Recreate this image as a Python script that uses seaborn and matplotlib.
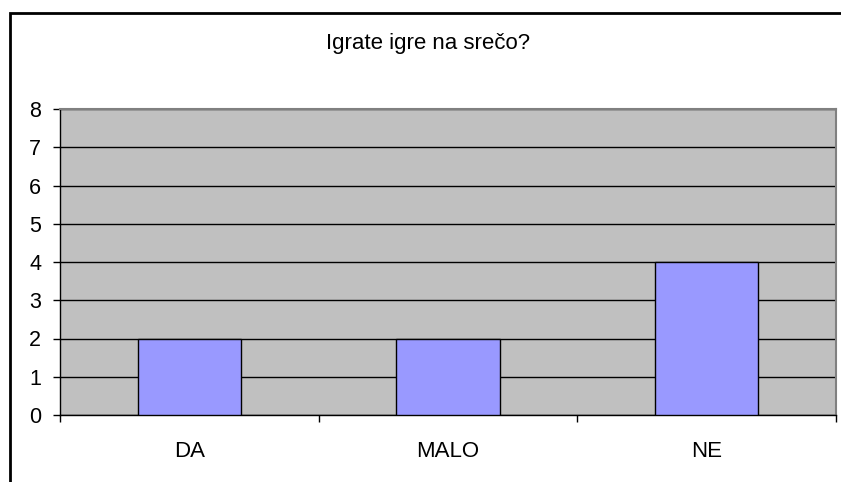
import matplotlib
matplotlib.use("Agg")
import matplotlib.pyplot as plt
import seaborn as sns
import pandas as pd
from matplotlib.patches import Rectangle

categories = ["DA", "MALO", "NE"]
values = [2, 2, 4]
title = "Igrate igre na srečo?"

sns.set_style("white")
plt.rcParams['font.family'] = ['Liberation Sans', 'DejaVu Sans']
plt.rcParams['text.color'] = 'black'
plt.rcParams['xtick.color'] = 'black'
plt.rcParams['ytick.color'] = 'black'

W, H = 841, 482
fig = plt.figure(figsize=(W/100, H/100), dpi=100)
ax = fig.add_axes([60/W, 1-415/H, (836-60)/W, (415-109)/H])

df = pd.DataFrame({"cat": categories, "val": values})
sns.barplot(data=df, x="cat", y="val", ax=ax, width=0.4, color="#9999FF",
            saturation=1, edgecolor="black", linewidth=1, zorder=3)

ax.set_facecolor("#C0C0C0")
ax.set_ylim(0, 8)
ax.set_xlim(-0.5, 2.5)
ax.set_yticks(range(0, 9))
ax.yaxis.grid(True, color="black", linewidth=1, zorder=1)
ax.set_axisbelow(True)
ax.set_xlabel("")
ax.set_ylabel("")
ax.tick_params(axis="y", length=5, width=1, pad=8.5, labelsize=15.5, color="black",
               labelcolor="black", left=True)
ax.tick_params(axis="x", which="major", length=0, pad=19, labelsize=16, labelcolor="black")
ax.set_xticks([-0.5, 0.5, 1.5, 2.5], minor=True)
ax.tick_params(axis="x", which="minor", length=5, width=1, color="black", bottom=True)
for s in ["top", "right"]:
    ax.spines[s].set_color("#808080")
    ax.spines[s].set_linewidth(1.5)
for s in ["left", "bottom"]:
    ax.spines[s].set_color("black")
    ax.spines[s].set_linewidth(1)

fig.text(428.5/W, 1-43/H, title, ha="center", va="center", fontsize=16, color="black")

fig.patches.append(Rectangle((9.5/W, -0.05), 1.2, 1-12.5/H+0.05, transform=fig.transFigure,
                             fill=False, edgecolor="black", linewidth=2))

fig.savefig("out.png", dpi=100)
